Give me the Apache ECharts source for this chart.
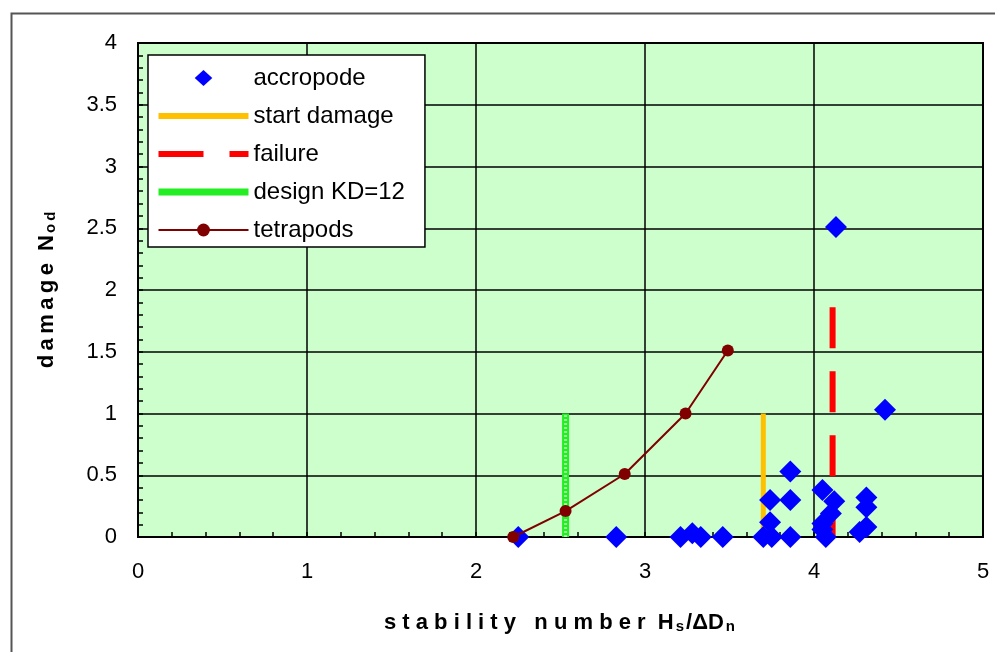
<!DOCTYPE html>
<html><head><meta charset="utf-8">
<script src="https://cdn.jsdelivr.net/npm/echarts@6/dist/echarts.min.js"></script>
<style>html,body{margin:0;padding:0;background:#fff}#c{width:995px;height:652px}</style>
</head><body><div id="c"></div>
<script>
const xTickLabels = ['0','1','2','3','4','5'];
const yTickLabels = ['0','0.5','1','1.5','2','2.5','3','3.5','4'];
const accropodeX = [2.25, 2.83, 3.21, 3.28, 3.33, 3.46, 3.70, 3.75, 3.74, 3.74, 3.86, 3.86, 3.86, 4.05, 4.12, 4.10, 4.05, 4.05, 4.07, 4.13, 4.42, 4.31, 4.31, 4.31, 4.27];
const accropodeY = [0, 0, 0, 0.03, 0, 0, 0, 0, 0.12, 0.30, 0.53, 0.30, 0, 0.38, 0.29, 0.19, 0.11, 0.06, 0, 2.51, 1.03, 0.32, 0.24, 0.08, 0.04];
const tetrapodsX = [2.22, 2.53, 2.88, 3.24, 3.49];
const tetrapodsY = [0, 0.21, 0.51, 1.0, 1.51];
const startDamageX = [3.70, 3.70];
const startDamageY = [0, 1.0];
const failureX = [4.11, 4.11];
const failureY = [1.86, 0];
const designX = [2.53, 2.53];
const designY = [0, 1.0];

const zip = (a, b) => a.map((v, i) => [v, b[i]]);
const FONT = 'Liberation Sans, Arial, sans-serif';
const hideSym = {opacity: 0};

const chart = echarts.init(document.getElementById('c'), null, {renderer: 'canvas'});
chart.setOption({
  backgroundColor: '#fff',
  animation: false,
  graphic: [{
    type: 'rect', left: 9, top: 11, shape: {x: 0, y: 0, width: 1000, height: 660},
    style: {fill: 'none', stroke: '#555', lineWidth: 2}, silent: true, z: -1
  }],
  grid: {left: 138, right: 12, top: 43, bottom: 115, show: true, backgroundColor: '#CCFFCC', borderColor: '#000', borderWidth: 2},
  legend: {
    orient: 'vertical', left: 148, top: 55,
    padding: [11, 20, 5, 7],
    backgroundColor: '#fff', borderColor: '#000', borderWidth: 1.5,
    itemWidth: 90, itemHeight: 16, itemGap: 14, itemTextGap: 5,
    textStyle: {fontFamily: FONT, fontSize: 24, color: '#000', lineHeight: 24},
    data: [
      {name: 'accropode', icon: 'path://M0,0M90,16M45,-2L56,8L45,18L34,8Z', itemStyle: {color: '#0000FF', opacity: 1}},
      {name: 'start damage', itemStyle: hideSym, lineStyle: {color: '#FFC000', width: 6}},
      {name: 'failure', itemStyle: hideSym, lineStyle: {color: '#FF0000', width: 6, type: [45, 26]}},
      {name: 'design KD=12', itemStyle: hideSym, lineStyle: {color: '#22EE22', width: 7}},
      'tetrapods'
    ]
  },
  xAxis: {
    type: 'value', min: 0, max: 5, interval: 1,
    name: 's t a b i l i t y   n u m b e r  {m|H}{s|s}{m|/ΔD}{s|n}',
    nameLocation: 'middle', nameGap: 74,
    nameTextStyle: {fontFamily: FONT, fontSize: 22, fontWeight: 'bold', color: '#000',
      rich: {m: {fontFamily: FONT, fontSize: 22, fontWeight: 'bold', color: '#000'},
             s: {fontFamily: FONT, fontSize: 15, fontWeight: 'bold', color: '#000', padding: [8, 2, 0, 2]}}},
    axisLine: {show: true, onZero: false, lineStyle: {color: '#000', width: 2}},
    axisTick: {show: true, inside: true, length: 5, lineStyle: {color: '#000', width: 1.5}},
    minorTick: {show: true, splitNumber: 5, length: 5, lineStyle: {color: '#000', width: 1.5}},
    splitLine: {show: true, lineStyle: {color: '#000', width: 1.5}},
    axisLabel: {fontFamily: FONT, fontSize: 22, color: '#000', margin: 24,
      formatter: v => xTickLabels[Math.round(v)]}
  },
  yAxis: {
    type: 'value', min: 0, max: 4, interval: 0.5,
    name: 'd\u2009a\u2009m\u2009a\u2009g\u2009e  {m|N}{s|o\u2009d}',
    nameLocation: 'middle', nameGap: 80, nameRotate: 90,
    nameTextStyle: {fontFamily: FONT, fontSize: 22, fontWeight: 'bold', color: '#000',
      rich: {m: {fontFamily: FONT, fontSize: 22, fontWeight: 'bold', color: '#000'},
             s: {fontFamily: FONT, fontSize: 15, fontWeight: 'bold', color: '#000', padding: [8, 0, 0, 2]}}},
    axisLine: {show: true, onZero: false, lineStyle: {color: '#000', width: 2}},
    axisTick: {show: true, inside: true, length: 5, lineStyle: {color: '#000', width: 1.5}},
    minorTick: {show: true, splitNumber: 5, length: 5, lineStyle: {color: '#000', width: 1.5}},
    splitLine: {show: true, lineStyle: {color: '#000', width: 1.5}},
    axisLabel: {fontFamily: FONT, fontSize: 22, color: '#000', margin: 21, padding: [0, 0, 7, 0],
      formatter: v => yTickLabels[Math.round(v * 2)]}
  },
  series: [
    {name: 'start damage', type: 'line', data: zip(startDamageX, startDamageY), showSymbol: false, symbol: 'none',
      lineStyle: {color: '#FFC000', width: 5}, itemStyle: {color: '#FFC000'}, z: 2},
    {name: 'failure', type: 'line', data: zip(failureX, failureY), showSymbol: false, symbol: 'none',
      lineStyle: {color: '#FF0000', width: 6, type: [41, 23]}, itemStyle: {color: '#FF0000'}, z: 2},
    {name: 'design KD=12', type: 'line', data: zip(designX, designY), showSymbol: false, symbol: 'none',
      lineStyle: {color: '#22EE22', width: 7}, itemStyle: {color: '#22EE22'}, z: 2},
    {name: '_designOverlay', type: 'line', data: zip(designX, designY), showSymbol: false, symbol: 'none',
      lineStyle: {color: '#99FF99', width: 3, type: [2, 2]}, z: 3, silent: true},
    {name: 'accropode', type: 'scatter', data: zip(accropodeX, accropodeY), symbol: 'diamond', symbolSize: 22,
      itemStyle: {color: '#0000FF', opacity: 1}, z: 4},
    {name: 'tetrapods', type: 'line', data: zip(tetrapodsX, tetrapodsY), symbol: 'circle', symbolSize: 12, showSymbol: true,
      lineStyle: {color: '#800000', width: 2}, itemStyle: {color: '#800000'}, z: 5}
  ]
});
</script></body></html>
